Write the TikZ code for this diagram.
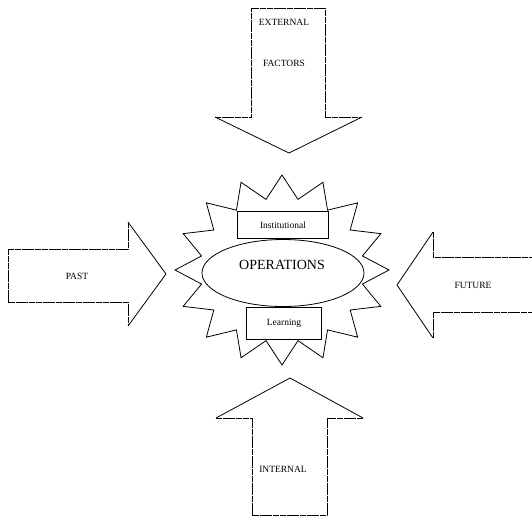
\documentclass[tikz,border=0pt]{standalone}
\usepackage{fontspec}
\setmainfont{Liberation Serif}
\usetikzlibrary{shapes.geometric,positioning}

\begin{document}
\begin{tikzpicture}[x=1pt, y=-1pt,
    shaftline/.style={draw=black, line width=0.8pt, dash pattern=on 6pt off 0.7pt},
    headline/.style={draw=black, line width=0.8pt, line join=miter},
    starline/.style={draw=black, line width=0.8pt, fill=white, line join=miter},
    boxlabel/.style={draw=black, line width=0.8pt, fill=white, inner sep=0pt, font=\fontsize{9.5}{10}\selectfont},
    arrowlabel/.style={font=\fontsize{9.5}{10}\selectfont}]
    \useasboundingbox (0,0) rectangle (532,528);

    % Starburst behind the centre
    \draw[starline] ({282+107*cos(90)}, {270-95*sin(90)})
      \foreach \i in {1,...,31} {
        -- ({282+(mod(\i,2)==0 ? 107 : 82)*cos(90+11.25*\i)}, {270-(mod(\i,2)==0 ? 95 : 72)*sin(90+11.25*\i)})
      } -- cycle;

    % Centre: operations with its two boxes
    \node[ellipse, draw=black, line width=0.8pt, fill=white, minimum width=162, minimum height=67,
      inner sep=0pt] (ops) at (283,273) {};
    \node[font=\fontsize{14}{16}\selectfont] (opstext) at (282,265) {OPERATIONS};
    \node[boxlabel, minimum width=91, minimum height=27] (inst) at (283,225) {Institutional};
    \node[boxlabel, minimum width=75, minimum height=32] (learn) at (284,323) {Learning};

    % Top arrow, pointing down
    \draw[shaftline] (215,117) -- (251,117) -- (251,8) -- (325,8) -- (325,117) -- (362,117);
    \draw[headline] (215,117) -- (289,153) -- (362,117);
    \node[arrowlabel] (ext) at (284,22) {EXTERNAL};
    \node[arrowlabel] (fac) at (284,63) {FACTORS};

    % Bottom arrow, pointing up
    \draw[shaftline] (216,418) -- (252,418) -- (252,515) -- (327,515) -- (327,418) -- (363,418);
    \draw[headline] (216,418) -- (290,378) -- (363,418);
    \node[arrowlabel] (int) at (283,469) {INTERNAL};

    % Left arrow, pointing right
    \draw[shaftline] (128,222) -- (128,249) -- (8,249) -- (8,302) -- (128,302) -- (128,326);
    \draw[headline] (128,222) -- (166,274) -- (128,326);
    \node[arrowlabel] (past) at (77,276) {PAST};

    % Right arrow, pointing left (runs off the page)
    \draw[shaftline] (433,232) -- (433,257) -- (534,257);
    \draw[shaftline] (433,338) -- (433,312) -- (534,312);
    \draw[headline] (433,232) -- (397,285) -- (433,338);
    \node[arrowlabel] (fut) at (473,285) {FUTURE};
\end{tikzpicture}
\end{document}
